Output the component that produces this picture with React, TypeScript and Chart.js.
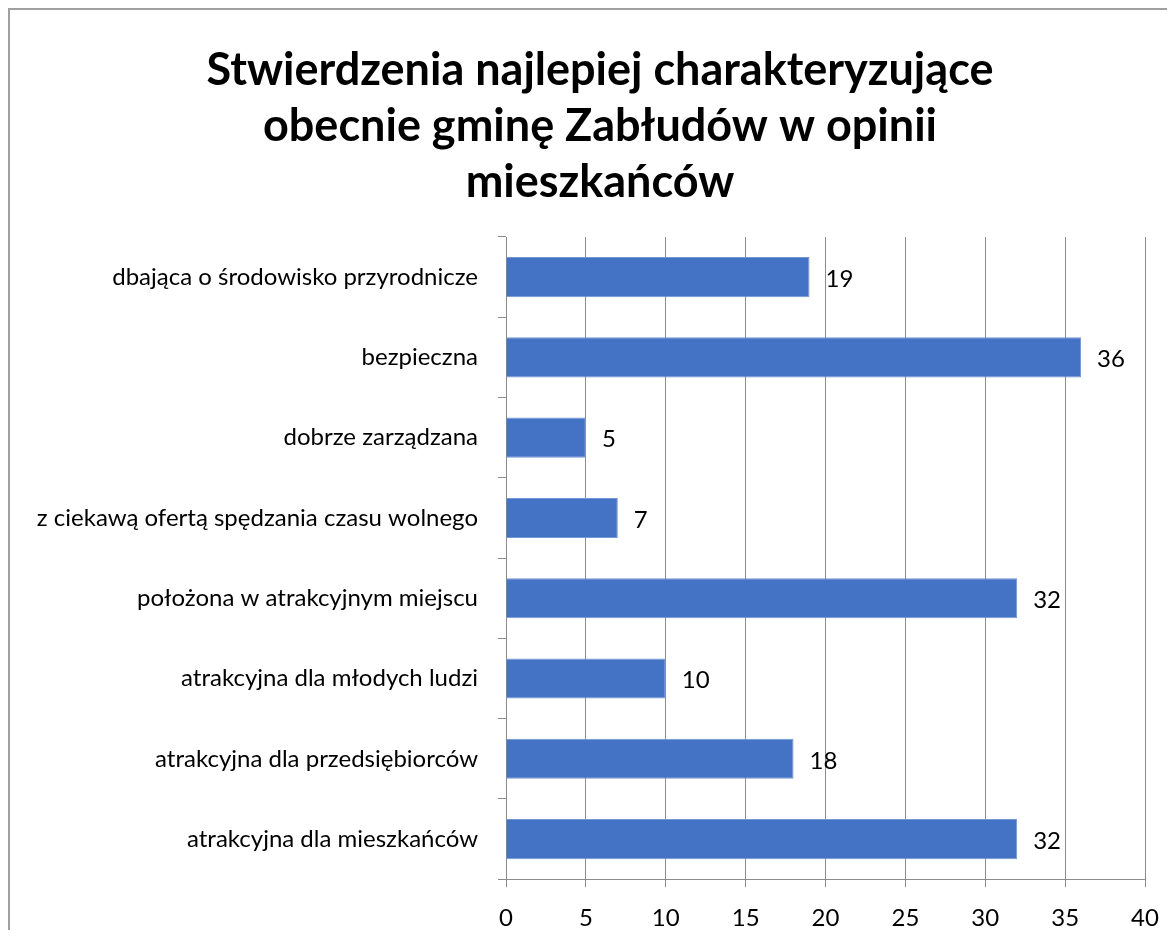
import React, { useEffect, useRef } from "react";
import { Chart, registerables } from "chart.js";

Chart.register(...registerables);

const titleLines = [
  "Stwierdzenia najlepiej charakteryzujące",
  "obecnie gminę Zabłudów w opinii",
  "mieszkańców",
];

const categories = [
  "dbająca o środowisko przyrodnicze",
  "bezpieczna",
  "dobrze zarządzana",
  "z ciekawą ofertą spędzania czasu wolnego",
  "położona w atrakcyjnym miejscu",
  "atrakcyjna dla młodych ludzi",
  "atrakcyjna dla przedsiębiorców",
  "atrakcyjna dla mieszkańców",
];

const values = [19, 36, 5, 7, 32, 10, 18, 32];

const xMin = 0;
const xMax = 40;
const xStep = 5;

const FONT = "Lato, 'Open Sans', sans-serif";

const titlePlugin = {
  id: "customTitle",
  afterDraw(chart: any) {
    const ctx = chart.ctx;
    ctx.save();
    ctx.font = `bold 45px ${FONT}`;
    ctx.fillStyle = "#000";
    ctx.textAlign = "center";
    ctx.textBaseline = "middle";
    titleLines.forEach((line, i) => {
      ctx.fillText(line, 590, 60 + i * 56.25);
    });
    ctx.restore();
  },
};

const valueLabels = {
  id: "valueLabels",
  afterDatasetsDraw(chart: any) {
    const ctx = chart.ctx;
    const meta = chart.getDatasetMeta(0);
    ctx.save();
    ctx.font = `24px ${FONT}`;
    ctx.fillStyle = "#000";
    ctx.textAlign = "left";
    ctx.textBaseline = "middle";
    meta.data.forEach((bar: any, i: number) => {
      ctx.fillText(String(values[i]), bar.x + 16, bar.y + 2);
    });
    ctx.restore();
  },
};

export default function App() {
  const ref = useRef<HTMLCanvasElement | null>(null);
  useEffect(() => {
    if (!ref.current) return;
    const chart = new Chart(ref.current, {
      type: "bar",
      data: {
        labels: categories,
        datasets: [
          {
            data: values,
            backgroundColor: "#4472C4",
            borderColor: "#7396d4",
            borderWidth: 1,
            barPercentage: 0.5,
            categoryPercentage: 1,
          },
        ],
      },
      options: {
        indexAxis: "y",
        animation: false,
        responsive: false,
        maintainAspectRatio: false,
        layout: { padding: { left: 0, right: 45, top: 227, bottom: 1 } },
        plugins: {
          legend: { display: false },
          tooltip: { enabled: false },
          title: { display: false },
        },
        scales: {
          x: {
            min: xMin,
            max: xMax,
            ticks: {
              stepSize: xStep,
              color: "#000",
              font: { family: FONT, size: 24 },
              padding: 17,
            },
            grid: {
              color: "#8c8c8c",
              lineWidth: 1,
              tickLength: 8,
              drawTicks: true,
            },
            border: { display: true, color: "#8c8c8c" },
          },
          y: {
            afterFit: (scale: any) => {
              scale.width = 496;
            },
            ticks: {
              color: "#000",
              font: { family: FONT, size: 24 },
              padding: 20,
            },
            grid: {
              drawOnChartArea: false,
              drawTicks: true,
              tickLength: 8,
              color: "#8c8c8c",
              offset: true,
            },
            border: { display: true, color: "#8c8c8c" },
          },
        },
      },
      plugins: [valueLabels, titlePlugin],
    });
    return () => chart.destroy();
  }, []);

  return (
    <div
      style={{
        width: 1167,
        height: 922,
        overflow: "hidden",
        borderLeft: "2px solid #a0a0a0",
        borderTop: "2px solid #a0a0a0",
        boxSizing: "border-box",
        position: "relative",
        background: "#fff",
      }}
    >
      <canvas ref={ref} width={1180} height={941} style={{ display: "block" }} />
    </div>
  );
}
